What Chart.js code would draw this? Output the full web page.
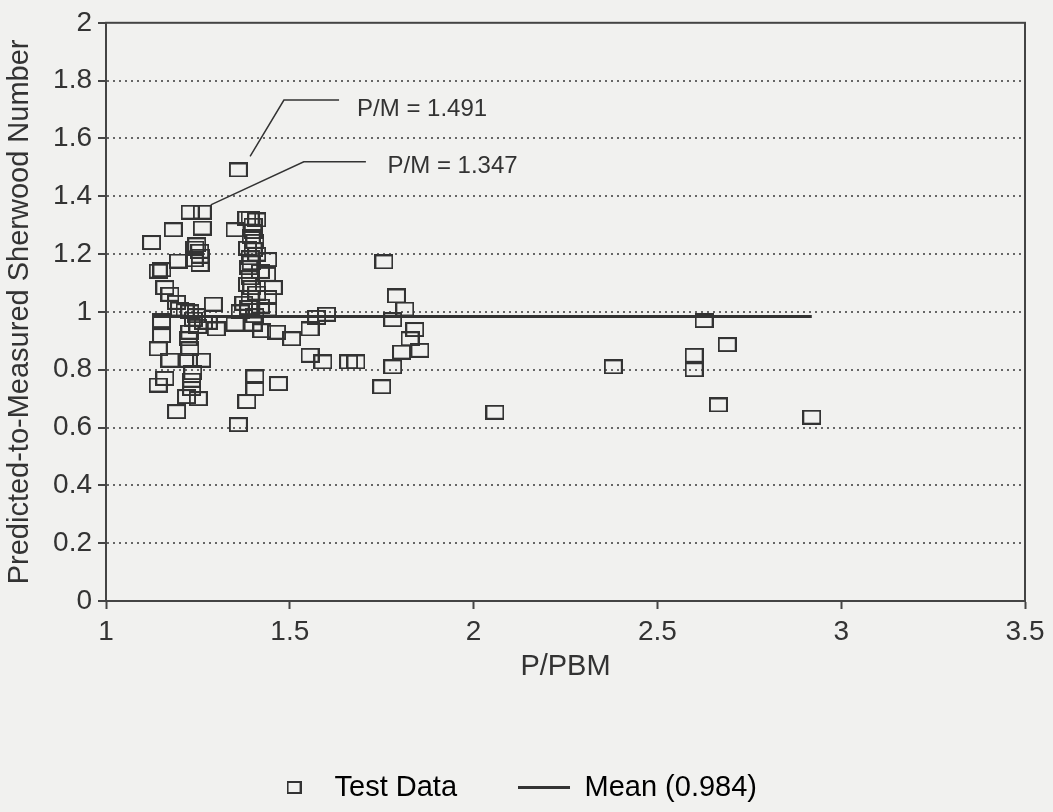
<!DOCTYPE html>
<html>
<head>
<meta charset="utf-8">
<script src="https://cdn.jsdelivr.net/npm/chart.js@4"></script>
<style>
  html, body { margin: 0; padding: 0; background: #f1f1ef; }
  canvas { display: block; }
</style>
</head>
<body>
<canvas id="sherwoodChart" width="1053" height="812"></canvas>
<script>
// P/PBM vs predicted-to-measured Sherwood number
const testX = [
  1.229, 1.262, 1.183, 1.262, 1.124, 1.242, 1.247, 1.256, 1.256, 1.197, 1.240, 1.142, 1.152, 1.160, 1.174,
  1.192, 1.292, 1.215, 1.200, 1.246, 1.238, 1.151, 1.265, 1.278, 1.228, 1.151, 1.300, 1.224, 1.142, 1.228,
  1.174, 1.224, 1.260, 1.160, 1.142, 1.233, 1.233, 1.219, 1.251, 1.192, 1.236, 1.250, 1.228, 1.255,
  1.360, 1.383, 1.392, 1.410, 1.351, 1.400, 1.400, 1.405, 1.395, 1.400, 1.385, 1.440, 1.392, 1.410, 1.388,
  1.395, 1.437, 1.392, 1.420, 1.397, 1.455, 1.385, 1.440, 1.392, 1.410, 1.388, 1.440, 1.375, 1.420, 1.365,
  1.405, 1.351, 1.400, 1.424, 1.464, 1.505, 1.383, 1.405, 1.405, 1.469, 1.360,
  1.555, 1.573, 1.600, 1.555, 1.590, 1.660, 1.680,
  1.756, 1.790, 1.813, 1.780, 1.840, 1.827, 1.804, 1.854, 1.780, 1.750,
  2.058, 2.380, 2.600, 2.600, 2.627, 2.690, 2.666, 2.920
];
const testY = [
  1.345, 1.345, 1.284, 1.290, 1.240, 1.221, 1.232, 1.193, 1.164, 1.176, 1.180, 1.141, 1.146, 1.084, 1.061,
  1.033, 1.027, 1.004, 1.010, 0.987, 0.975, 0.970, 0.964, 0.964, 0.930, 0.918, 0.941, 0.907, 0.872, 0.872,
  0.833, 0.833, 0.833, 0.770, 0.747, 0.764, 0.735, 0.707, 0.700, 0.655, 0.790, 0.950, 1.000, 1.210,
  1.491, 1.324, 1.324, 1.318, 1.284, 1.278, 1.300, 1.244, 1.260, 1.215, 1.220, 1.181, 1.187, 1.200, 1.153,
  1.170, 1.130, 1.118, 1.140, 1.084, 1.084, 1.095, 1.050, 1.050, 1.065, 1.015, 1.010, 1.030, 1.020, 1.000,
  0.987, 0.958, 0.958, 0.935, 0.930, 0.907, 0.690, 0.735, 0.775, 0.752, 0.610,
  0.941, 0.981, 0.992, 0.850, 0.827, 0.827, 0.827,
  1.173, 1.055, 1.010, 0.973, 0.939, 0.907, 0.861, 0.867, 0.810, 0.741,
  0.653, 0.810, 0.850, 0.800, 0.970, 0.887, 0.678, 0.636
];
const meanValue = 0.984;
const meanFrom = 1.13;
const meanTo = 2.92;

// leader lines for the two labelled points (data units)
const callouts = [
  { text: 'P/M = 1.491', path: [[1.392, 1.538], [1.484, 1.733], [1.634, 1.733]], at: [1.683, 1.702] },
  { text: 'P/M = 1.347', path: [[1.285, 1.370], [1.538, 1.519], [1.707, 1.519]], at: [1.766, 1.503] }
];

const ink = '#333';
const tickFont = { family: '"Liberation Sans Narrow", "Arial Narrow", "Liberation Sans", Arial, sans-serif', size: 28 };
const textFont = { family: '"Liberation Sans", Arial, sans-serif', size: 29 };

function openBox(w, h) {
  const c = document.createElement('canvas');
  c.width = w; c.height = h;
  const g = c.getContext('2d');
  g.strokeStyle = ink;
  g.lineWidth = 2;
  g.strokeRect(1, 1, w - 2, h - 2);
  return c;
}
const marker = openBox(19, 15);
const legendMarker = openBox(15, 13);

const fmt = v => String(+Number(v).toFixed(1));

const paper = {
  id: 'paper',
  beforeDraw(chart) {
    const { ctx, width, height } = chart;
    ctx.save();
    ctx.fillStyle = '#f1f1ef';
    ctx.fillRect(0, 0, width, height);
    ctx.restore();
  },
  afterDatasetsDraw(chart) {
    const { ctx, chartArea: a, scales: { x, y } } = chart;
    ctx.save();
    ctx.strokeStyle = '#444';
    ctx.lineWidth = 2;
    ctx.setLineDash([]);
    ctx.strokeRect(a.left, a.top, a.right - a.left, a.bottom - a.top);

    ctx.strokeStyle = ink;
    ctx.lineWidth = 1.5;
    ctx.fillStyle = ink;
    ctx.font = '24px "Liberation Sans", Arial, sans-serif';
    ctx.textBaseline = 'middle';
    callouts.forEach(c => {
      ctx.beginPath();
      c.path.forEach(([vx, vy], i) => {
        const px = x.getPixelForValue(vx), py = y.getPixelForValue(vy);
        if (i) ctx.lineTo(px, py); else ctx.moveTo(px, py);
      });
      ctx.stroke();
      ctx.fillText(c.text, x.getPixelForValue(c.at[0]), y.getPixelForValue(c.at[1]));
    });
    ctx.restore();
  }
};

new Chart(document.getElementById('sherwoodChart'), {
  type: 'scatter',
  data: {
    datasets: [
      {
        label: 'Test Data',
        data: testX.map((v, i) => ({ x: v, y: testY[i] })),
        pointStyle: marker,
        pointRadius: 9,
        pointHoverRadius: 9
      },
      {
        type: 'line',
        label: 'Mean (0.984)',
        data: [{ x: meanFrom, y: meanValue }, { x: meanTo, y: meanValue }],
        borderColor: ink,
        borderWidth: 3,
        pointRadius: 0,
        showLine: true
      }
    ]
  },
  options: {
    responsive: false,
    animation: false,
    layout: { padding: { left: 0, right: 28, top: 18, bottom: 0 } },
    plugins: {
      tooltip: { enabled: false },
      legend: {
        position: 'bottom',
        labels: {
          usePointStyle: true,
          pointStyleWidth: 52,
          padding: 61,
          color: ink,
          font: textFont,
          generateLabels: chart => chart.data.datasets.map((ds, i) => ({
            text: ds.label,
            datasetIndex: i,
            pointStyle: i === 0 ? legendMarker : 'line',
            strokeStyle: ink,
            fillStyle: 'rgba(0,0,0,0)',
            lineWidth: 3,
            hidden: false
          }))
        }
      }
    },
    scales: {
      x: {
        type: 'linear',
        min: 1,
        max: 3.5,
        afterFit: s => { s.height = 111; },
        ticks: { stepSize: 0.5, color: ink, font: tickFont, padding: 6, maxRotation: 0, callback: fmt },
        grid: { drawOnChartArea: false, drawTicks: true, tickLength: 8, tickColor: '#444', tickWidth: 2 },
        border: { display: true, color: '#444', width: 2 },
        title: { display: true, text: 'P/PBM', color: ink, font: textFont, padding: { top: 0, bottom: 28 } }
      },
      y: {
        min: 0,
        max: 2,
        afterFit: s => { s.width = 106; },
        ticks: { stepSize: 0.2, color: ink, font: tickFont, padding: 6, callback: fmt },
        grid: {
          color: c => (c.tick && (c.tick.value === 0 || c.tick.value === 2)) ? 'rgba(0,0,0,0)' : '#666',
          lineWidth: 2,
          tickLength: 8,
          tickColor: '#444',
          tickWidth: 2,
          tickBorderDash: []
        },
        border: { display: true, color: '#444', width: 2, dash: [2, 4] },
        title: { display: true, text: 'Predicted-to-Measured Sherwood Number', color: ink, font: textFont, padding: { top: 3, bottom: 0 } }
      }
    }
  },
  plugins: [paper]
});
</script>
</body>
</html>
